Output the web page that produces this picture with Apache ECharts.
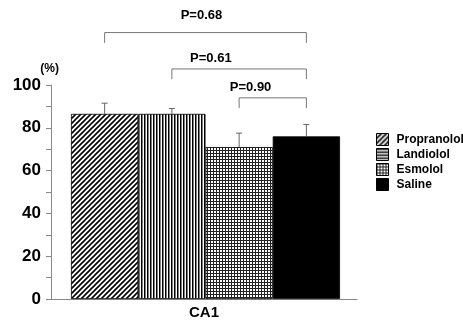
<!DOCTYPE html>
<html><head><meta charset="utf-8">
<script src="https://cdn.jsdelivr.net/npm/echarts@6/dist/echarts.min.js"></script>
<style>html,body{margin:0;padding:0;background:#fff}#c{width:463px;height:321px}</style>
</head><body><div id="c"></div>
<script>
// ---- data ----
const categories = ['CA1'];
const groups = ['Propranolol', 'Landiolol', 'Esmolol', 'Saline'];
const means = [86.5, 86.5, 71, 76];
const errTop = [91.5, 89, 77.5, 81.5];
const yTicks = [0, 20, 40, 60, 80, 100];
// comparisons: [from group, to group, bracket height]
const bracketFrom = [0, 1, 2];
const bracketTo = [3, 3, 3];
const bracketY = [124.5, 107.5, 94];
const pLabels = ['P=0.68', 'P=0.61', 'P=0.90'];
const pLabelAnchor = [0.48, 0.29, 0.17];
const pLabelY = [132.5, 112.5, 99];

// ---- patterns ----
function tile(w, h, draw) {
  const c = document.createElement('canvas'); c.width = w; c.height = h;
  const g = c.getContext('2d'); g.fillStyle = '#fff'; g.fillRect(0, 0, w, h);
  g.fillStyle = '#000'; g.strokeStyle = '#000'; draw(g); return c;
}
const diag = tile(5, 5, g => {
  g.lineWidth = 1.6; g.beginPath();
  g.moveTo(-1, 6); g.lineTo(6, -1);
  g.moveTo(-1, 1); g.lineTo(1, -1);
  g.moveTo(4, 6); g.lineTo(6, 4);
  g.stroke();
});
const vert = tile(3, 3, g => { g.fillRect(0, 0, 1.5, 3); });
const horiz = tile(3, 3, g => { g.fillRect(0, 0, 3, 1.5); });
const grid = tile(3, 3, g => { g.fillStyle = '#222'; g.fillRect(0, 0, 1, 3); g.fillRect(0, 0, 3, 1); });
const fills = [
  { image: diag, repeat: 'repeat' },
  { image: vert, repeat: 'repeat' },
  { image: grid, repeat: 'repeat' },
  '#000'
];
const legendFills = [
  { image: diag, repeat: 'repeat' },
  { image: horiz, repeat: 'repeat' },
  { image: grid, repeat: 'repeat' },
  '#000'
];

const font = 'Liberation Sans';
const chart = echarts.init(document.getElementById('c'), null, { renderer: 'canvas' });

const barSeries = groups.map((name, i) => ({
  name, type: 'bar', xAxisIndex: 1, yAxisIndex: 1,
  barWidth: '100%', barGap: '-100%',
  data: groups.map((_, j) => j === i ? means[i] : '-'),
  itemStyle: { color: fills[i], borderColor: '#000', borderWidth: 0.8 },
  animation: false, z: 2
}));

const errSeries = {
  type: 'custom', xAxisIndex: 1, yAxisIndex: 1, silent: true, animation: false, z: 3,
  data: groups.map((_, i) => [i, means[i], errTop[i]]),
  encode: { x: 0, y: [1, 2] },
  renderItem(params, api) {
    const a = api.coord([api.value(0), api.value(1)]);
    const b = api.coord([api.value(0), api.value(2)]);
    const st = { stroke: '#666', lineWidth: 1 };
    return { type: 'group', children: [
      { type: 'line', shape: { x1: a[0], y1: a[1], x2: b[0], y2: b[1] }, style: st },
      { type: 'line', shape: { x1: b[0] - 3, y1: b[1], x2: b[0] + 3, y2: b[1] }, style: st }
    ] };
  }
};

const bracketSeries = {
  type: 'custom', xAxisIndex: 1, yAxisIndex: 1, silent: true, animation: false, clip: false, z: 3,
  data: bracketFrom.map((f, i) => [f, bracketTo[i], bracketY[i], pLabelY[i], pLabelAnchor[i]]),
  encode: { x: [0, 1], y: 2 },
  renderItem(params, api) {
    const i = params.dataIndex;
    const p1 = api.coord([api.value(0), api.value(2)]);
    const p2 = api.coord([api.value(1), api.value(2)]);
    const leg = api.size([0, 4.8])[1];
    const ly = api.coord([api.value(0), api.value(3)])[1];
    const t = api.value(4);
    const st = { stroke: '#777', lineWidth: 1, fill: null };
    return { type: 'group', children: [
      { type: 'polyline', shape: { points: [[p1[0], p1[1] + leg], [p1[0], p1[1]], [p2[0], p2[1]], [p2[0], p2[1] + leg]] }, style: st },
      { type: 'text', x: p1[0] + (p2[0] - p1[0]) * t, y: ly,
        style: { text: pLabels[i], fill: '#000', font: 'bold 13px ' + font, align: 'center', verticalAlign: 'middle' } }
    ] };
  }
};

chart.setOption({
  animation: false,
  backgroundColor: '#fff',
  grid: [
    { left: 51, right: 106, top: 85, bottom: 22 },
    { left: 71, right: 123, top: 85, bottom: 22 }
  ],
  legend: {
    orient: 'vertical', left: 371, top: 128,
    itemWidth: 12, itemHeight: 12, itemGap: 2, icon: 'rect',
    selectedMode: false,
    textStyle: { fontFamily: font, fontWeight: 'bold', fontSize: 12, color: '#000', padding: [0, 0, 0, 3] },
    itemStyle: { borderColor: '#000', borderWidth: 1 },
    data: groups.map((g, i) => ({ name: g, itemStyle: { color: legendFills[i], borderColor: '#000', borderWidth: 1 } }))
  },
  xAxis: [
    { type: 'category', gridIndex: 0, data: categories,
      axisLine: { lineStyle: { color: '#888', width: 1 } }, axisTick: { show: false },
      axisLabel: { color: '#000', fontFamily: font, fontWeight: 'bold', fontSize: 15, margin: 6 } },
    { type: 'category', gridIndex: 1, data: groups, show: false, boundaryGap: true }
  ],
  yAxis: [
    { type: 'value', gridIndex: 0, min: 0, max: 100, interval: 20,
      name: '(%)', nameGap: 10, nameLocation: 'end',
      nameTextStyle: { color: '#000', fontFamily: font, fontWeight: 'bold', fontSize: 12, align: 'right', padding: [0, -8, 0, 0] },
      axisLine: { show: true, lineStyle: { color: '#888' } },
      axisTick: { show: true, length: 5, lineStyle: { color: '#888' } },
      minorTick: { show: true, splitNumber: 2, length: 5, lineStyle: { color: '#888' } },
      splitLine: { show: false },
      axisLabel: { color: '#000', fontFamily: font, fontWeight: 'bold', fontSize: 17, margin: 10,
        formatter: v => yTicks.includes(v) ? String(v) : '' } },
    { type: 'value', gridIndex: 1, min: 0, max: 100, show: false }
  ],
  series: [...barSeries, errSeries, bracketSeries]
});
</script></body></html>
